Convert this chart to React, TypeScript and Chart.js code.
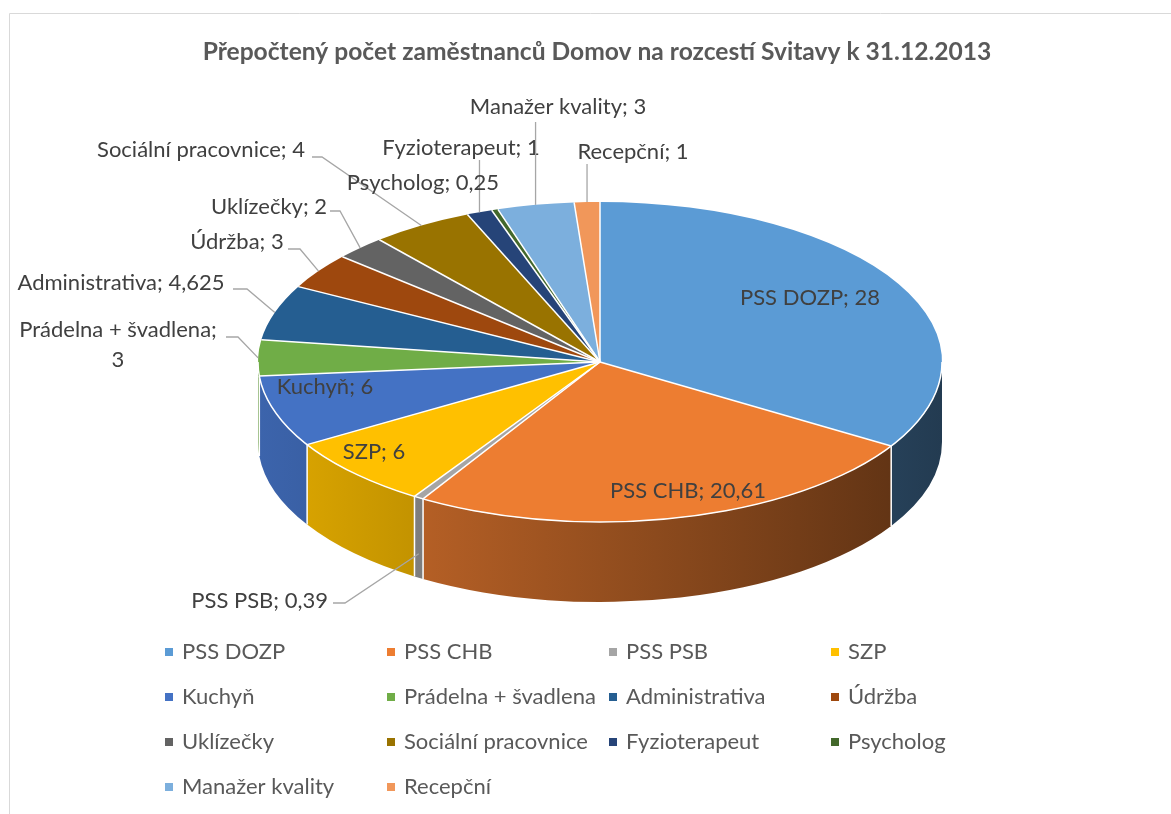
import React, { useEffect, useRef } from "react";
import { Chart, registerables } from "chart.js";

Chart.register(...registerables);

// ---------- data ----------
const TITLE = "Přepočtený počet zaměstnanců Domov na rozcestí Svitavy k 31.12.2013";
const categories = [
  "PSS DOZP",
  "PSS CHB",
  "PSS PSB",
  "SZP",
  "Kuchyň",
  "Prádelna + švadlena",
  "Administrativa",
  "Údržba",
  "Uklízečky",
  "Sociální pracovnice",
  "Fyzioterapeut",
  "Psycholog",
  "Manažer kvality",
  "Recepční",
];
const values = [28, 20.61, 0.39, 6, 6, 3, 4.625, 3, 2, 4, 1, 0.25, 3, 1];
const colors = [
  "#5B9BD5",
  "#ED7D31",
  "#A5A5A5",
  "#FFC000",
  "#4472C4",
  "#70AD47",
  "#255E91",
  "#9E480E",
  "#636363",
  "#997300",
  "#264478",
  "#43682B",
  "#7CAFDD",
  "#F1975A",
];

// ---------- layout / style ----------
const FONT = "Lato, 'Noto Sans', sans-serif";
const W = 1171;
const H = 814;
const CX = 600;
const CY = 362;
const RX = 342;
const RY = 160;
const DEPTH = 80;

type LabelCfg = {
  lines: string[] | null; // null -> single line "name; value"
  x: number;
  y: number;
  align: CanvasTextAlign;
  leader?: number[][]; // start points, end computed from slice
  edge?: "top" | "side";
};

const LABELS: Record<string, LabelCfg> = {
  "PSS DOZP": { lines: null, x: 810, y: 298, align: "center" },
  "PSS CHB": { lines: null, x: 688, y: 491, align: "center" },
  "PSS PSB": { lines: null, x: 328, y: 601, align: "right", leader: [[333, 603], [345, 603]], edge: "side" },
  SZP: { lines: null, x: 374, y: 452, align: "center" },
  "Kuchyň": { lines: null, x: 325, y: 387, align: "center" },
  "Prádelna + švadlena": { lines: ["Prádelna + švadlena;", "3"], x: 118, y: 330, align: "center", leader: [[226, 337], [238, 337]], edge: "top" },
  Administrativa: { lines: null, x: 121, y: 283, align: "center", leader: [[233, 289], [247, 289]], edge: "top" },
  "Údržba": { lines: null, x: 237, y: 242, align: "center", leader: [[288, 249], [300, 249]], edge: "top" },
  "Uklízečky": { lines: null, x: 269, y: 207, align: "center", leader: [[330, 211], [340, 211]], edge: "top" },
  "Sociální pracovnice": { lines: null, x: 201, y: 150, align: "center", leader: [[312, 157], [322, 157]], edge: "top" },
  Fyzioterapeut: { lines: null, x: 461, y: 148, align: "center", leader: [[0, 160]], edge: "top" },
  Psycholog: { lines: null, x: 423, y: 183, align: "center" },
  "Manažer kvality": { lines: null, x: 558, y: 107, align: "center", leader: [[0, 122]], edge: "top" },
  "Recepční": { lines: null, x: 633, y: 152, align: "center", leader: [[0, 164]], edge: "top" },
};

const LEGEND_X0 = 165;
const LEGEND_DX = 222;
const LEGEND_Y0 = 652;
const LEGEND_DY = 45;
const LEGEND_COLS = 4;

function shade(hex: string, f: number): string {
  const n = parseInt(hex.slice(1), 16);
  const r = Math.round(((n >> 16) & 255) * f);
  const g = Math.round(((n >> 8) & 255) * f);
  const b = Math.round((n & 255) * f);
  return `rgb(${r},${g},${b})`;
}

function fitSize(ctx: CanvasRenderingContext2D, text: string, target: number, weight: string) {
  ctx.font = `${weight} 100px ${FONT}`;
  const w = ctx.measureText(text).width;
  return (100 * target) / w;
}

const fmt = (v: number) => String(v).replace(".", ",");

const pie3d = {
  id: "pie3d",
  beforeDatasetsDraw(chart: any) {
    const ctx: CanvasRenderingContext2D = chart.ctx;
    const meta = chart.getDatasetMeta(0);
    const arcs = meta.data as any[];
    const bg = chart.data.datasets[0].backgroundColor as string[];

    ctx.save();
    // ---- side walls (front half only) ----
    arcs.forEach((arc, i) => {
      const { startAngle, endAngle } = arc.getProps(["startAngle", "endAngle"], true);
      const a0 = Math.max(startAngle, 0);
      const a1 = Math.min(endAngle, Math.PI);
      if (a1 <= a0) return;
      const g = ctx.createLinearGradient(CX - RX, 0, CX + RX, 0);
      g.addColorStop(0, shade(bg[i], 0.88));
      g.addColorStop(1, shade(bg[i], 0.38));
      ctx.beginPath();
      ctx.ellipse(CX, CY, RX, RY, 0, a0, a1);
      ctx.ellipse(CX, CY + DEPTH, RX, RY, 0, a1, a0, true);
      ctx.closePath();
      ctx.fillStyle = g;
      ctx.fill();
    });
    // white separators on the side
    ctx.strokeStyle = "#FFFFFF";
    ctx.lineWidth = 1.5;
    arcs.forEach((arc) => {
      const { startAngle } = arc.getProps(["startAngle"], true);
      let a = startAngle;
      if (a > 0 && a < Math.PI) {
        const px = CX + RX * Math.cos(a);
        const py = CY + RY * Math.sin(a);
        ctx.beginPath();
        ctx.moveTo(px, py);
        ctx.lineTo(px, py + DEPTH);
        ctx.stroke();
      }
    });

    // ---- top face: library arcs, squashed into an ellipse ----
    const { x, y, outerRadius } = arcs[0].getProps(["x", "y", "outerRadius"], true);
    ctx.save();
    ctx.translate(CX, CY);
    ctx.scale(RX / outerRadius, RY / outerRadius);
    ctx.translate(-x, -y);
    arcs.forEach((a) => a.draw(ctx));
    ctx.restore();

    // white separators on top face
    ctx.strokeStyle = "#FFFFFF";
    ctx.lineWidth = 1.5;
    arcs.forEach((arc) => {
      const { startAngle } = arc.getProps(["startAngle"], true);
      ctx.beginPath();
      ctx.moveTo(CX, CY);
      ctx.lineTo(CX + RX * Math.cos(startAngle), CY + RY * Math.sin(startAngle));
      ctx.stroke();
    });
    ctx.beginPath();
    ctx.ellipse(CX, CY, RX, RY, 0, 0, Math.PI);
    ctx.stroke();

    // ---- data labels ----
    const labelSize = fitSize(ctx, "Sociální pracovnice; 4", 208, "normal");
    ctx.font = `normal ${labelSize}px ${FONT}`;
    ctx.fillStyle = "#404040";
    ctx.textBaseline = "middle";
    const names = chart.data.labels as string[];
    const vals = chart.data.datasets[0].data as number[];
    names.forEach((name, i) => {
      const cfg = LABELS[name];
      if (!cfg) return;
      const lines = cfg.lines || [`${name}; ${fmt(vals[i])}`];
      ctx.textAlign = cfg.align;
      lines.forEach((ln, k) => ctx.fillText(ln, cfg.x, cfg.y + k * 30));
      if (cfg.leader) {
        const { startAngle, endAngle } = arcs[i].getProps(["startAngle", "endAngle"], true);
        const mid = (startAngle + endAngle) / 2;
        let ex = CX + RX * Math.cos(mid);
        let ey = CY + RY * Math.sin(mid);
        if (cfg.edge === "side") ey += DEPTH * 0.7;
        const pts = cfg.leader.map((p) => (p[0] === 0 ? [ex, p[1]] : p));
        ctx.strokeStyle = "#A6A6A6";
        ctx.lineWidth = 1.3;
        ctx.beginPath();
        ctx.moveTo(pts[0][0], pts[0][1]);
        for (let k = 1; k < pts.length; k++) ctx.lineTo(pts[k][0], pts[k][1]);
        ctx.lineTo(ex, ey);
        ctx.stroke();
      }
    });

    // ---- legend ----
    ctx.font = `normal ${labelSize}px ${FONT}`;
    ctx.textAlign = "left";
    ctx.textBaseline = "middle";
    names.forEach((name, i) => {
      const col = i % LEGEND_COLS;
      const row = Math.floor(i / LEGEND_COLS);
      const lx = LEGEND_X0 + col * LEGEND_DX;
      const ly = LEGEND_Y0 + row * LEGEND_DY;
      ctx.fillStyle = bg[i];
      ctx.fillRect(lx, ly - 4, 8, 8);
      ctx.fillStyle = "#595959";
      ctx.fillText(name, lx + 17, ly);
    });

    // ---- title ----
    const tSize = fitSize(ctx, TITLE, 789, "bold");
    ctx.font = `bold ${tSize}px ${FONT}`;
    ctx.fillStyle = "#595959";
    ctx.textAlign = "center";
    ctx.fillText(TITLE, 597, 52);

    // ---- frame ----
    ctx.strokeStyle = "#D9D9D9";
    ctx.lineWidth = 1;
    ctx.beginPath();
    ctx.moveTo(9.5, H);
    ctx.lineTo(9.5, 13.5);
    ctx.lineTo(W, 13.5);
    ctx.stroke();

    ctx.restore();
    return false;
  },
};

export default function App() {
  const ref = useRef<HTMLCanvasElement | null>(null);
  useEffect(() => {
    document.body.style.margin = "0";
    const canvas = ref.current!;
    const chart = new Chart(canvas, {
      type: "pie",
      data: {
        labels: categories,
        datasets: [
          {
            data: values,
            backgroundColor: colors,
            borderWidth: 0,
          },
        ],
      },
      options: {
        responsive: false,
        animation: false,
        devicePixelRatio: 1,
        events: [],
        plugins: {
          legend: { display: false },
          title: { display: false },
          tooltip: { enabled: false },
        },
      },
      plugins: [pie3d as any],
    });
    return () => chart.destroy();
  }, []);
  return (
    <div style={{ width: W, height: H, background: "#FFFFFF" }}>
      <canvas ref={ref} width={W} height={H} style={{ display: "block" }} />
    </div>
  );
}
